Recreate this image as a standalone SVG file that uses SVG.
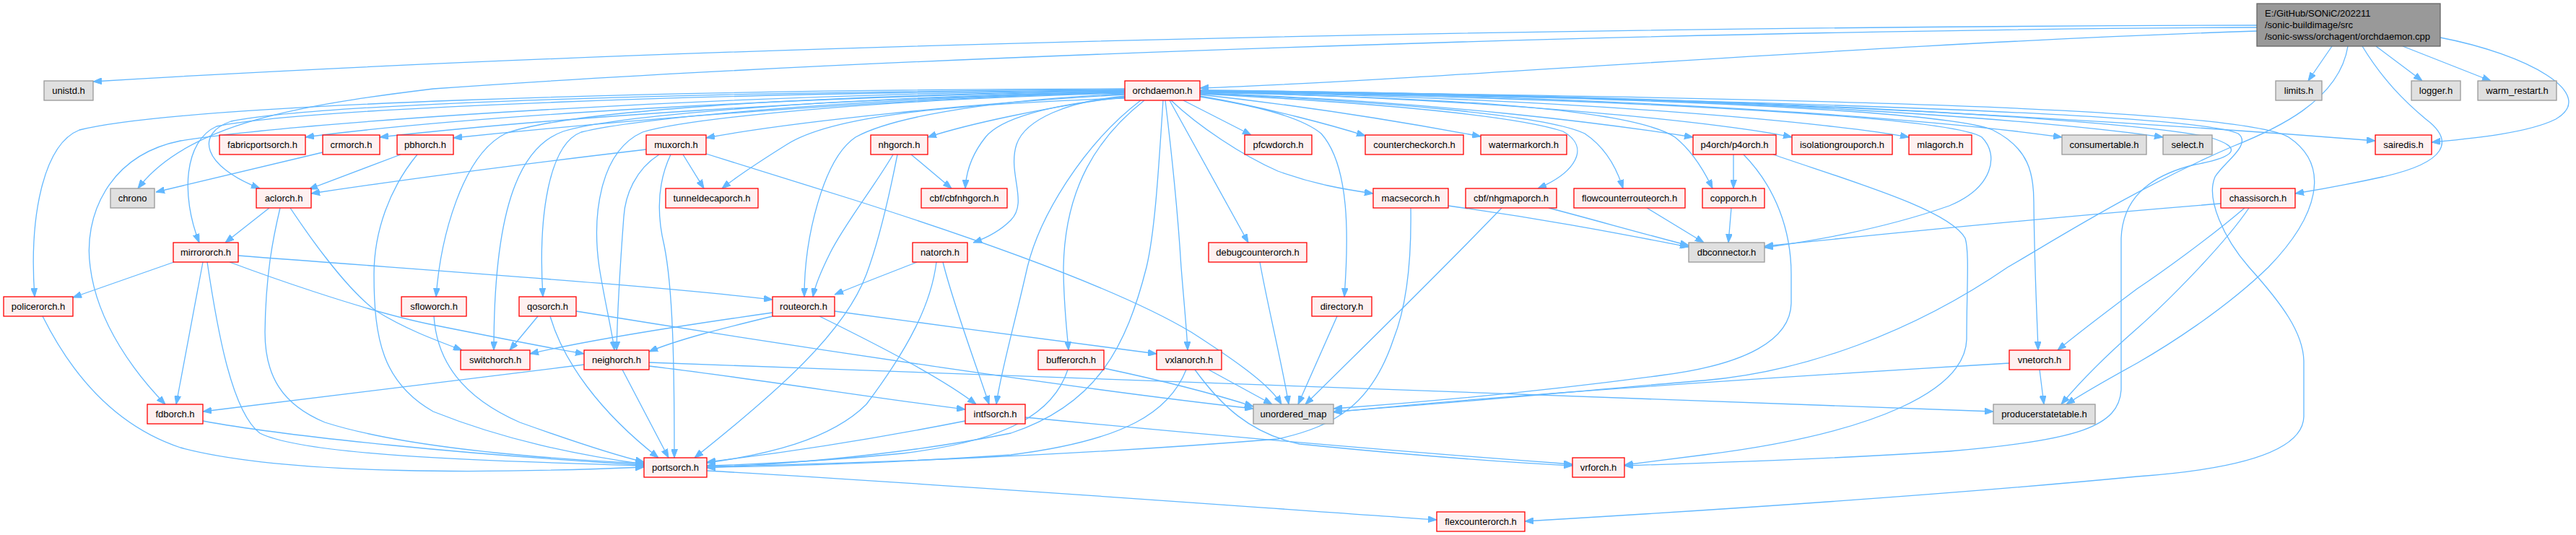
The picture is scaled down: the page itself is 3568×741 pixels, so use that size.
<svg xmlns="http://www.w3.org/2000/svg" width="3568" height="741" viewBox="0 0 3568 741">
<style>
.e path{fill:none;stroke:#63B8FF;stroke-width:1.3;marker-end:url(#ah)}
.r rect{fill:#FFF0F0;stroke:#FF0000;stroke-width:1.3}
.g rect{fill:#E0E0E0;stroke:#999999;stroke-width:1.3}
.m rect{fill:#999999;stroke:#666666;stroke-width:1.3}
text{font-family:"Liberation Sans",Arial,sans-serif;font-size:13px;fill:#000;text-anchor:middle}
.m text{text-anchor:start}
</style>
<defs>
<marker id="ah" markerUnits="userSpaceOnUse" markerWidth="12" markerHeight="9" viewBox="0 0 12 9" refX="12" refY="4.5" orient="auto">
<path d="M0,0 L12,4.5 L0,9 z" fill="#63B8FF" stroke="#63B8FF"/>
</marker>
</defs>
<rect width="3568" height="741" fill="#fff"/>
<g id="edges" class="e">
<path d="M3126,35 C2200,37 1000,60 129,113"/>
<path d="M3126,38 C2300,42 1200,80 600,123 C420,145 260,170 191,261"/>
<path d="M3126,43 C2600,60 2000,110 1662,122"/>
<path d="M3230,64 L3197,112"/>
<path d="M3291,64 L3355,112"/>
<path d="M3328,64 L3450,112"/>
<path d="M3380,52 C3500,75 3600,130 3540,165 C3500,185 3420,192 3368,197"/>
<path d="M3272,64 C3300,110 3330,140 3360,165 C3400,195 3390,225 3300,245 C3250,256 3210,263 3179,268"/>
<path d="M3252,64 C3240,140 3150,180 3092,203 C2960,260 2850,330 2781,370 C2650,460 2500,515 2360,527 C2200,540 2000,560 1847,570"/>
<path d="M1558,126 C1100,134 650,160 423,190"/>
<path d="M1558,127 C1150,136 750,165 526,190"/>
<path d="M1558,128 C1200,138 850,168 628,191"/>
<path d="M1558,131 C1350,143 1100,168 978,191"/>
<path d="M1558,134 C1450,148 1340,172 1285,190"/>
<path d="M1558,124 C1000,127 450,142 320,168 C270,185 280,230 360,261"/>
<path d="M1558,125 C1000,128 420,150 300,175 C255,195 250,270 276,336"/>
<path d="M1558,123 C900,124 250,145 110,180 C60,200 40,300 48,411"/>
<path d="M1558,125 C1000,130 420,168 250,195 C150,215 115,300 125,370 C135,450 190,520 229,560"/>
<path d="M1558,126 C1100,132 780,155 700,185 C640,215 610,330 604,411"/>
<path d="M1558,127 C1150,135 850,160 780,182 C715,205 684,300 684,485"/>
<path d="M1558,128 C1150,137 880,165 805,183 C760,200 745,300 752,411"/>
<path d="M1558,129 C1200,138 950,165 890,183 C830,210 820,300 830,370 C838,420 848,460 851,485"/>
<path d="M1558,136 C1300,145 1150,162 1090,200 C1050,225 1020,245 1000,261"/>
<path d="M1558,135 C1450,145 1385,165 1365,190 C1345,215 1338,240 1337,261"/>
<path d="M1558,133 C1480,140 1420,165 1408,200 C1395,240 1425,280 1400,305 C1385,320 1365,330 1348,336"/>
<path d="M1558,130 C1350,140 1230,165 1185,190 C1140,220 1114,330 1114,411"/>
<path d="M1580,139 C1500,200 1440,300 1423,370 C1405,450 1385,520 1380,560"/>
<path d="M1585,139 C1520,190 1475,260 1473,370 C1473,420 1478,460 1480,485"/>
<path d="M1611,139 C1605,230 1600,320 1588,370 C1560,480 1520,560 1400,600 C1250,630 1100,642 979,648"/>
<path d="M1614,139 C1625,230 1633,320 1636,370 C1640,420 1644,460 1645,485"/>
<path d="M1639,139 L1733,187"/>
<path d="M1620,139 L1729,336"/>
<path d="M1622,139 C1660,175 1720,215 1770,237 C1820,255 1860,262 1902,268"/>
<path d="M1662,134 C1730,145 1800,160 1830,185 C1870,230 1868,330 1862,411"/>
<path d="M1662,133 C1760,150 1850,175 1891,188"/>
<path d="M1662,131 C1820,148 1960,172 2051,189"/>
<path d="M1662,130 C1900,142 2100,160 2165,182 C2205,205 2180,240 2130,261"/>
<path d="M1662,129 C1900,140 2140,158 2195,185 C2225,205 2240,235 2248,261"/>
<path d="M1662,129 C2000,140 2250,175 2345,190"/>
<path d="M1662,128 C2000,135 2260,150 2320,190 C2345,210 2362,240 2372,261"/>
<path d="M1662,127 C2100,138 2400,172 2482,190"/>
<path d="M1662,127 C2200,136 2550,172 2644,190"/>
<path d="M1662,126 C2300,133 2700,168 2856,190"/>
<path d="M1662,126 C2400,130 2850,168 2996,190"/>
<path d="M1662,125 C2500,133 3100,180 3290,195"/>
<path d="M1662,127 C2200,135 2700,160 2745,190 C2770,215 2760,260 2700,285 C2600,320 2500,335 2444,343"/>
<path d="M1662,126 C2300,133 2700,155 2760,180 C2810,205 2817,240 2817,280 C2818,380 2822,450 2823,485"/>
<path d="M1662,125 C2400,132 2950,165 3060,190 C3110,205 3095,218 3040,228 C2970,245 2940,280 2938,330 L2938,540 C2935,590 2880,610 2700,625 C2550,635 2400,640 2250,645"/>
<path d="M1662,126 C2500,135 3100,150 3170,190 C3230,230 3210,300 3142,370 C3080,430 3000,480 2960,503 C2920,525 2885,545 2862,560"/>
<path d="M1662,127 C2500,138 3050,160 3100,185 C3120,200 3080,225 3068,245 C3055,275 3080,330 3115,370 C3160,420 3190,460 3191,500 L3191,577 C3190,625 3100,650 2960,660 C2700,685 2400,705 2112,722"/>
<path d="M447,211 L216,266"/>
<path d="M555,214 L428,262"/>
<path d="M578,214 C540,260 518,320 518,380 C518,470 530,530 600,570 C700,610 800,630 892,643"/>
<path d="M895,207 C700,230 550,250 431,268"/>
<path d="M946,214 L975,261"/>
<path d="M913,214 C880,235 866,270 864,300 C858,380 855,440 854,485"/>
<path d="M929,214 C912,250 908,290 920,340 C932,400 934,500 934,634"/>
<path d="M978,213 L1180,276 C1350,330 1550,400 1650,460 C1720,505 1760,535 1775,560"/>
<path d="M1262,214 L1318,261"/>
<path d="M1237,214 C1210,260 1170,310 1150,350 C1135,380 1128,400 1126,411"/>
<path d="M1243,214 C1230,280 1215,340 1200,380 C1170,460 1080,540 962,634"/>
<path d="M1270,363 C1240,375 1200,390 1156,408"/>
<path d="M1306,363 C1320,420 1350,500 1370,560"/>
<path d="M1297,363 C1290,420 1260,480 1200,560 C1150,610 1060,630 979,641"/>
<path d="M241,363 L101,412"/>
<path d="M281,363 L244,560"/>
<path d="M287,363 C300,450 320,570 360,600 C420,630 650,638 892,645"/>
<path d="M330,354 C600,375 900,395 1070,415"/>
<path d="M318,363 C350,375 500,430 600,450 C700,470 760,482 809,490"/>
<path d="M373,288 L312,336"/>
<path d="M388,288 C378,330 368,380 367,460 C367,520 390,560 450,585 C560,620 750,635 892,642"/>
<path d="M402,288 C430,330 480,400 520,430 C560,455 600,470 640,485"/>
<path d="M59,438 C100,520 160,590 250,620 C400,660 700,655 892,647"/>
<path d="M281,583 C400,605 650,630 892,644"/>
<path d="M809,505 C600,530 400,555 281,570"/>
<path d="M601,438 C605,500 640,550 720,585 C790,610 850,630 892,640"/>
<path d="M745,438 L706,485"/>
<path d="M762,438 C780,500 830,570 912,634"/>
<path d="M798,431 C1100,480 1500,540 1736,566"/>
<path d="M1070,433 C950,450 820,470 734,490"/>
<path d="M1070,438 C1000,455 940,470 899,487"/>
<path d="M1156,431 C1300,450 1480,475 1602,490"/>
<path d="M1135,438 C1200,470 1300,520 1352,560"/>
<path d="M862,512 L926,634"/>
<path d="M899,507 C1050,525 1200,550 1337,567"/>
<path d="M899,502 C1200,510 1800,535 2761,570"/>
<path d="M1337,583 C1200,610 1080,628 979,640"/>
<path d="M1420,578 C1700,605 2000,630 2178,643"/>
<path d="M1479,512 C1460,570 1400,610 1250,628 C1150,638 1050,643 979,645"/>
<path d="M1529,510 C1600,525 1680,545 1736,563"/>
<path d="M1643,512 C1620,570 1560,610 1400,630 C1250,640 1100,646 979,647"/>
<path d="M1655,512 C1690,560 1730,600 1800,615 C1950,630 2080,640 2178,645"/>
<path d="M1674,512 L1762,560"/>
<path d="M1954,288 C1955,350 1950,420 1930,470 C1900,560 1850,590 1770,608 C1500,630 1200,642 979,646"/>
<path d="M2006,285 C2150,305 2250,325 2339,342"/>
<path d="M2145,288 C2210,305 2280,325 2339,340"/>
<path d="M2080,288 C2030,340 1920,450 1808,560"/>
<path d="M2281,288 L2360,336"/>
<path d="M2398,288 L2394,336"/>
<path d="M2401,214 L2401,261"/>
<path d="M2415,214 C2460,260 2481,320 2481,380 L2481,420 C2480,470 2420,505 2300,520 C2150,540 2000,555 1847,566"/>
<path d="M2456,214 C2560,250 2700,290 2722,330 C2728,350 2724,400 2724,470 C2722,540 2600,600 2360,630 C2320,635 2280,640 2250,644"/>
<path d="M1745,363 C1755,420 1775,500 1785,560"/>
<path d="M1852,438 L1798,560"/>
<path d="M3076,282 C2850,300 2600,325 2444,341"/>
<path d="M3109,288 C3060,330 2990,380 2960,400 C2920,430 2880,460 2850,485"/>
<path d="M3115,288 C3080,340 3000,420 2960,455 C2920,490 2880,530 2855,560"/>
<path d="M2783,503 C2500,520 2100,545 1847,571"/>
<path d="M2825,512 L2831,560"/>
<path d="M979,652 C1300,670 1700,700 1990,720"/>
</g>
<g id="main" class="m"><rect x="3126" y="5" width="254" height="59"/><text x="3137" y="23">E:/GitHub/SONiC/202211</text><text x="3137" y="39">/sonic-buildimage/src</text><text x="3137" y="55">/sonic-swss/orchagent/orchdaemon.cpp</text></g>
<g id="unistd" class="g"><rect x="61" y="112" width="68" height="27"/><text x="95" y="130">unistd.h</text></g>
<g id="orchdaemon" class="r"><rect x="1558" y="112" width="104" height="27"/><text x="1610" y="130">orchdaemon.h</text></g>
<g id="limits" class="g"><rect x="3152" y="112" width="64" height="27"/><text x="3184" y="130">limits.h</text></g>
<g id="logger" class="g"><rect x="3340" y="112" width="68" height="27"/><text x="3374" y="130">logger.h</text></g>
<g id="warm_restart" class="g"><rect x="3432" y="112" width="109" height="27"/><text x="3486.5" y="130">warm_restart.h</text></g>
<g id="fabricportsorch" class="r"><rect x="304" y="187" width="119" height="27"/><text x="363.5" y="205">fabricportsorch.h</text></g>
<g id="crmorch" class="r"><rect x="447" y="187" width="79" height="27"/><text x="486.5" y="205">crmorch.h</text></g>
<g id="pbhorch" class="r"><rect x="550" y="187" width="78" height="27"/><text x="589" y="205">pbhorch.h</text></g>
<g id="muxorch" class="r"><rect x="895" y="187" width="83" height="27"/><text x="936.5" y="205">muxorch.h</text></g>
<g id="nhgorch" class="r"><rect x="1206" y="187" width="79" height="27"/><text x="1245.5" y="205">nhgorch.h</text></g>
<g id="pfcwdorch" class="r"><rect x="1724" y="187" width="93" height="27"/><text x="1770.5" y="205">pfcwdorch.h</text></g>
<g id="countercheckorch" class="r"><rect x="1891" y="187" width="136" height="27"/><text x="1959" y="205">countercheckorch.h</text></g>
<g id="watermarkorch" class="r"><rect x="2051" y="187" width="119" height="27"/><text x="2110.5" y="205">watermarkorch.h</text></g>
<g id="p4orch" class="r"><rect x="2345" y="187" width="115" height="27"/><text x="2402.5" y="205">p4orch/p4orch.h</text></g>
<g id="isolationgrouporch" class="r"><rect x="2482" y="187" width="139" height="27"/><text x="2551.5" y="205">isolationgrouporch.h</text></g>
<g id="mlagorch" class="r"><rect x="2644" y="187" width="87" height="27"/><text x="2687.5" y="205">mlagorch.h</text></g>
<g id="consumertable" class="g"><rect x="2856" y="187" width="117" height="27"/><text x="2914.5" y="205">consumertable.h</text></g>
<g id="select" class="g"><rect x="2996" y="187" width="68" height="27"/><text x="3030" y="205">select.h</text></g>
<g id="sairedis" class="r"><rect x="3290" y="187" width="78" height="27"/><text x="3329" y="205">sairedis.h</text></g>
<g id="chrono" class="g"><rect x="153" y="261" width="61" height="27"/><text x="183.5" y="279">chrono</text></g>
<g id="aclorch" class="r"><rect x="355" y="261" width="76" height="27"/><text x="393" y="279">aclorch.h</text></g>
<g id="tunneldecaporch" class="r"><rect x="922" y="261" width="128" height="27"/><text x="986" y="279">tunneldecaporch.h</text></g>
<g id="cbfnhgorch" class="r"><rect x="1276" y="261" width="119" height="27"/><text x="1335.5" y="279">cbf/cbfnhgorch.h</text></g>
<g id="macsecorch" class="r"><rect x="1902" y="261" width="104" height="27"/><text x="1954" y="279">macsecorch.h</text></g>
<g id="nhgmaporch" class="r"><rect x="2030" y="261" width="126" height="27"/><text x="2093" y="279">cbf/nhgmaporch.h</text></g>
<g id="flowcounterrouteorch" class="r"><rect x="2180" y="261" width="154" height="27"/><text x="2257" y="279">flowcounterrouteorch.h</text></g>
<g id="copporch" class="r"><rect x="2358" y="261" width="86" height="27"/><text x="2401" y="279">copporch.h</text></g>
<g id="chassisorch" class="r"><rect x="3076" y="261" width="103" height="27"/><text x="3127.5" y="279">chassisorch.h</text></g>
<g id="mirrororch" class="r"><rect x="240" y="336" width="90" height="27"/><text x="285" y="354">mirrororch.h</text></g>
<g id="natorch" class="r"><rect x="1264" y="336" width="76" height="27"/><text x="1302" y="354">natorch.h</text></g>
<g id="debugcounterorch" class="r"><rect x="1674" y="336" width="136" height="27"/><text x="1742" y="354">debugcounterorch.h</text></g>
<g id="dbconnector" class="g"><rect x="2339" y="336" width="105" height="27"/><text x="2391.5" y="354">dbconnector.h</text></g>
<g id="policerorch" class="r"><rect x="5" y="411" width="96" height="27"/><text x="53" y="429">policerorch.h</text></g>
<g id="sfloworch" class="r"><rect x="556" y="411" width="90" height="27"/><text x="601" y="429">sfloworch.h</text></g>
<g id="qosorch" class="r"><rect x="719" y="411" width="79" height="27"/><text x="758.5" y="429">qosorch.h</text></g>
<g id="routeorch" class="r"><rect x="1070" y="411" width="86" height="27"/><text x="1113" y="429">routeorch.h</text></g>
<g id="directory" class="r"><rect x="1817" y="411" width="83" height="27"/><text x="1858.5" y="429">directory.h</text></g>
<g id="switchorch" class="r"><rect x="638" y="485" width="96" height="27"/><text x="686" y="503">switchorch.h</text></g>
<g id="neighorch" class="r"><rect x="809" y="485" width="90" height="27"/><text x="854" y="503">neighorch.h</text></g>
<g id="bufferorch" class="r"><rect x="1438" y="485" width="91" height="27"/><text x="1483.5" y="503">bufferorch.h</text></g>
<g id="vxlanorch" class="r"><rect x="1602" y="485" width="90" height="27"/><text x="1647" y="503">vxlanorch.h</text></g>
<g id="vnetorch" class="r"><rect x="2783" y="485" width="84" height="27"/><text x="2825" y="503">vnetorch.h</text></g>
<g id="fdborch" class="r"><rect x="204" y="560" width="77" height="27"/><text x="242.5" y="578">fdborch.h</text></g>
<g id="intfsorch" class="r"><rect x="1337" y="560" width="83" height="27"/><text x="1378.5" y="578">intfsorch.h</text></g>
<g id="unordered_map" class="g"><rect x="1736" y="560" width="111" height="27"/><text x="1791.5" y="578">unordered_map</text></g>
<g id="producerstatetable" class="g"><rect x="2761" y="560" width="141" height="27"/><text x="2831.5" y="578">producerstatetable.h</text></g>
<g id="portsorch" class="r"><rect x="892" y="634" width="87" height="27"/><text x="935.5" y="652">portsorch.h</text></g>
<g id="vrforch" class="r"><rect x="2178" y="634" width="72" height="27"/><text x="2214" y="652">vrforch.h</text></g>
<g id="flexcounterorch" class="r"><rect x="1990" y="709" width="122" height="27"/><text x="2051" y="727">flexcounterorch.h</text></g>
</svg>
